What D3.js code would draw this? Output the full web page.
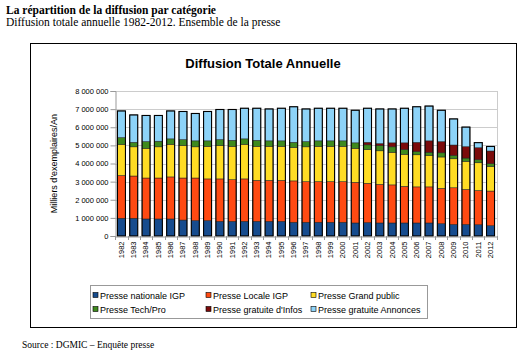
<!DOCTYPE html>
<html lang="fr">
<head>
<meta charset="UTF-8">
<title>Diffusion Totale Annuelle</title>
<script src="https://d3js.org/d3.v7.min.js"></script>
<style>
  body { margin: 0; background: #fff; }
  .head { font-family: 'Liberation Serif', 'Times New Roman', serif; font-size: 11.5px; fill: #000; }
  .sans { font-family: 'Liberation Sans', Arial, sans-serif; fill: #000; }
  .grid line { stroke: #cccccc; stroke-width: 1; }
</style>
</head>
<body>
<svg width="523" height="354"></svg>
<script>
const years = d3.range(1982, 2013).map(String);

// Milliers d'exemplaires / an
const nationale = [980000, 980000, 940000, 940000, 940000, 880000, 850000, 850000, 810000, 810000, 810000,
  810000, 810000, 810000, 760000, 760000, 760000, 760000, 760000, 720000, 740000,
  720000, 720000, 720000, 720000, 720000, 680000, 640000, 640000, 620000, 570000];
const locale = [2360000, 2330000, 2260000, 2260000, 2320000, 2320000, 2350000, 2300000, 2340000, 2300000, 2340000,
  2260000, 2260000, 2260000, 2280000, 2240000, 2240000, 2240000, 2240000, 2240000, 2170000,
  2130000, 2100000, 2020000, 1990000, 1990000, 1950000, 2020000, 1930000, 1890000, 1910000];
const grandPublic = [1710000, 1610000, 1640000, 1720000, 1800000, 1790000, 1720000, 1800000, 1840000, 1840000, 1910000,
  1880000, 1880000, 1880000, 1840000, 1920000, 1950000, 1950000, 1950000, 1880000, 1860000,
  1850000, 1800000, 1770000, 1770000, 1730000, 1730000, 1600000, 1550000, 1530000, 1360000];
const techPro = [380000, 250000, 370000, 310000, 300000, 330000, 330000, 300000, 330000, 330000, 300000,
  330000, 300000, 300000, 290000, 290000, 300000, 300000, 300000, 300000, 260000,
  290000, 300000, 260000, 180000, 180000, 230000, 190000, 180000, 170000, 150000];
const gratuiteInfos = [0, 0, 0, 0, 0, 0, 0, 0, 0, 0, 0,
  0, 0, 0, 0, 0, 0, 0, 0, 0, 140000,
  110000, 220000, 370000, 510000, 630000, 620000, 570000, 630000, 660000, 700000];
const gratuiteAnnonces = [1470000, 1510000, 1440000, 1420000, 1540000, 1550000, 1510000, 1620000, 1660000, 1700000, 1690000,
  1770000, 1760000, 1800000, 1960000, 1800000, 1800000, 1800000, 1800000, 1800000, 1880000,
  1910000, 1870000, 1910000, 1960000, 1920000, 1730000, 1440000, 1080000, 280000, 250000];

const seriesNames = ["Presse nationale IGP", "Presse Locale IGP", "Presse Grand public",
  "Presse Tech/Pro", "Presse gratuite d'Infos", "Presse gratuite Annonces"];
const seriesValues = [nationale, locale, grandPublic, techPro, gratuiteInfos, gratuiteAnnonces];
const colors = ["#174c8e", "#ff4a12", "#ffdc24", "#3f8a1e", "#7b0b0b", "#8dd3f8"];
const yTicks = d3.range(0, 8000001, 1000000);

const rows = years.map((y, i) => {
  const r = { year: y };
  seriesNames.forEach((s, k) => r[s] = seriesValues[k][i]);
  return r;
});

const svg = d3.select("svg");

// en-tête du document
svg.append("text").attr("class", "head").attr("x", 6).attr("y", 14)
  .style("font-weight", "bold").text("La répartition de la diffusion par catégorie");
svg.append("text").attr("class", "head").attr("x", 6).attr("y", 26)
  .text("Diffusion totale annuelle 1982-2012. Ensemble de la presse");
svg.append("text").attr("class", "head").attr("x", 22).attr("y", 348)
  .style("font-size", "9.5px").text("Source : DGMIC –  Enquête presse");

// cadre du graphique
svg.append("rect").attr("x", 30.5).attr("y", 43.5).attr("width", 486).attr("height", 284)
  .attr("fill", "#fff").attr("stroke", "#000").attr("stroke-width", 1);

svg.append("text").attr("class", "sans").attr("x", 263).attr("y", 68)
  .attr("text-anchor", "middle").style("font-size", "13px").style("font-weight", "bold")
  .text("Diffusion Totale Annuelle");

const m = { left: 115, right: 497, top: 91, bottom: 236 };

const x = d3.scaleBand().domain(years).range([m.left, m.right]).paddingInner(0.35).paddingOuter(0.2);
const y = d3.scaleLinear().domain([0, 8000000]).range([m.bottom, m.top]);

const fmt = v => d3.format(",")(v).replace(/,/g, " ");

// grille
svg.append("g").attr("class", "grid")
  .selectAll("line").data(yTicks.slice(1)).join("line")
  .attr("x1", m.left).attr("x2", m.right)
  .attr("y1", d => Math.round(y(d)) + 0.5).attr("y2", d => Math.round(y(d)) + 0.5);

svg.append("line").attr("x1", m.right + 0.5).attr("x2", m.right + 0.5)
  .attr("y1", m.top).attr("y2", m.bottom).attr("stroke", "#cccccc");

// axe Y
const yAxis = svg.append("g").attr("transform", `translate(${m.left + 0.5},0)`)
  .call(d3.axisLeft(y).tickValues(yTicks).tickFormat(fmt).tickSize(5).tickPadding(2));
yAxis.select(".domain").attr("stroke", "#999");
yAxis.selectAll(".tick line").attr("stroke", "#999");
yAxis.selectAll("text").attr("class", "sans").style("font-size", "7.5px").attr("font-family", null);

svg.append("text").attr("class", "sans")
  .attr("transform", `translate(57,${(m.top + m.bottom) / 2}) rotate(-90)`)
  .attr("text-anchor", "middle").style("font-size", "9px")
  .text("Milliers d'exemplaires/An");

// barres empilées
const stack = d3.stack().keys(seriesNames)(rows);
svg.append("g").selectAll("g").data(stack).join("g")
  .attr("fill", (d, i) => colors[i])
  .selectAll("rect").data(d => d).join("rect")
  .attr("x", d => x(d.data.year))
  .attr("width", x.bandwidth())
  .attr("y", d => y(d[1]))
  .attr("height", d => y(d[0]) - y(d[1]))
  .attr("stroke", "#222").attr("stroke-width", 0.5);

// contour des barres
svg.append("g").selectAll("rect").data(rows).join("rect")
  .attr("x", d => x(d.year))
  .attr("width", x.bandwidth())
  .attr("y", d => y(d3.sum(seriesNames, s => d[s])))
  .attr("height", d => m.bottom - y(d3.sum(seriesNames, s => d[s])))
  .attr("fill", "none").attr("stroke", "#000").attr("stroke-width", 1.1);

// axe X
const xAxis = svg.append("g").attr("transform", `translate(0,${m.bottom + 0.5})`)
  .call(d3.axisBottom(x).tickSize(0).tickPadding(4));
xAxis.select(".domain").attr("stroke", "#999");
xAxis.selectAll("text").attr("class", "sans").attr("font-family", null)
  .style("font-size", "7.5px")
  .attr("text-anchor", "end")
  .attr("transform", "rotate(-90)")
  .attr("x", -5).attr("y", 0).attr("dy", "0.32em");
const sep = i => Math.round(m.left + x.step() * (i + x.paddingOuter() - x.paddingInner() / 2)) + 0.5;
svg.append("g").selectAll("line").data(d3.range(years.length + 1)).join("line")
  .attr("x1", sep).attr("x2", sep)
  .attr("y1", m.bottom).attr("y2", m.bottom + 4).attr("stroke", "#999");

// légende
const legend = svg.append("g");
legend.append("rect").attr("x", 90.5).attr("y", 285.5).attr("width", 337).attr("height", 33)
  .attr("fill", "#fff").attr("stroke", "#999");
const colX = [93, 206, 311];
const rowY = [296, 310];
seriesNames.forEach((s, i) => {
  const gx = colX[i % 3], gy = rowY[Math.floor(i / 3)];
  legend.append("rect").attr("x", gx).attr("y", gy - 3.5).attr("width", 5).attr("height", 5)
    .attr("fill", colors[i]).attr("stroke", "#000").attr("stroke-width", 0.6);
  legend.append("text").attr("class", "sans").attr("x", gx + 7).attr("y", gy + 3)
    .style("font-size", "9px").text(s);
});
</script>
</body>
</html>
